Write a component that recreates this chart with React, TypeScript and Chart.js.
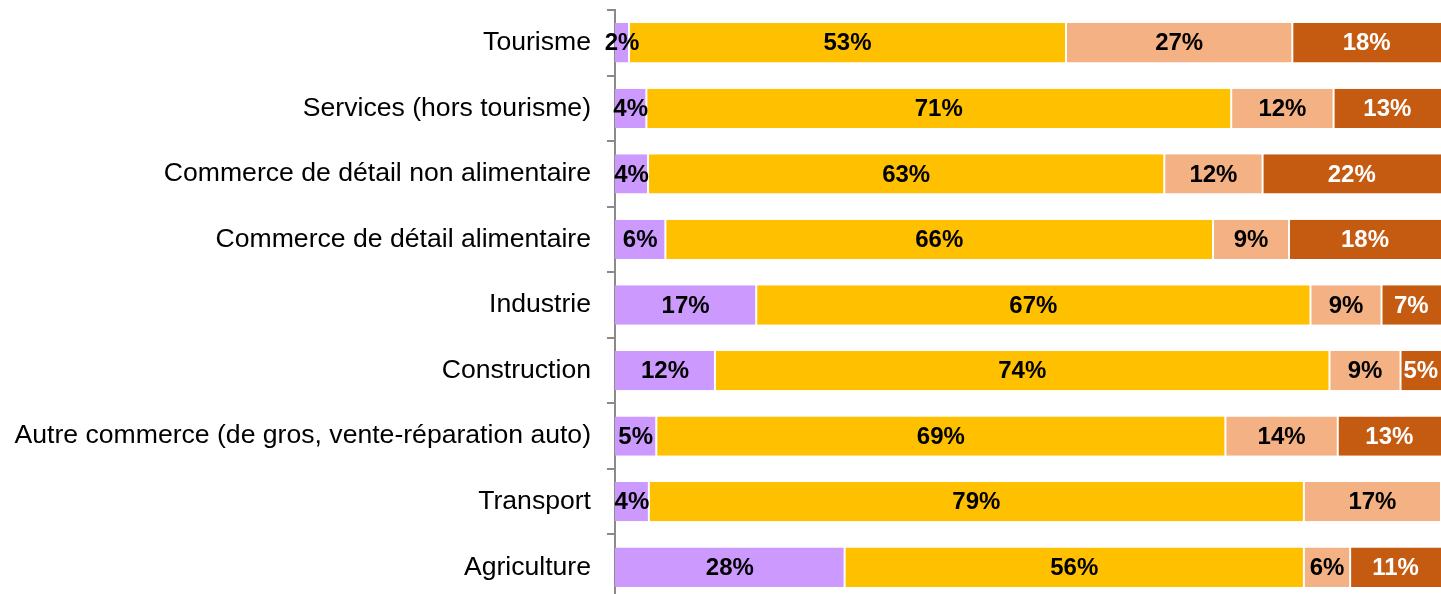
import React, { useEffect, useRef } from "react";
import { Chart, registerables } from "chart.js";

Chart.register(...registerables);

const categories = [
  "Tourisme",
  "Services (hors tourisme)",
  "Commerce de détail non alimentaire",
  "Commerce de détail alimentaire",
  "Industrie",
  "Construction",
  "Autre commerce (de gros, vente-réparation auto)",
  "Transport",
  "Agriculture",
];

const seriesA = [1.7, 3.8, 4.0, 6.1, 17.1, 12.1, 5.0, 4.1, 27.8];
const seriesB = [52.9, 70.8, 62.5, 66.3, 67.1, 74.4, 68.9, 79.3, 55.6];
const seriesC = [27.4, 12.4, 11.9, 9.2, 8.6, 8.6, 13.6, 16.6, 5.6];
const seriesD = [18.0, 13.0, 21.6, 18.4, 7.2, 4.9, 12.5, 0, 11.0];

const colors = ["#CC99FF", "#FFC000", "#F4B183", "#C55A11"];
const labelColors = ["#000000", "#000000", "#000000", "#FFFFFF"];

const dataLabelPlugin = {
  id: "dataLabels",
  afterDatasetsDraw(chart: any) {
    const ctx = chart.ctx;
    ctx.save();
    ctx.font = "bold 24px 'Liberation Sans', Arial, sans-serif";
    ctx.textAlign = "center";
    ctx.textBaseline = "middle";
    chart.data.datasets.forEach((ds: any, di: number) => {
      const meta = chart.getDatasetMeta(di);
      meta.data.forEach((bar: any, i: number) => {
        const v = ds.data[i];
        if (!v) return;
        const cx = (bar.x + bar.base) / 2;
        ctx.fillStyle = labelColors[di];
        ctx.fillText(Math.round(v) + "%", cx, bar.y + 1);
      });
    });
    ctx.restore();
  },
};

export default function App() {
  const ref = useRef<HTMLCanvasElement>(null);
  useEffect(() => {
    if (!ref.current) return;
    const mk = (data: number[], i: number) => ({
      data,
      backgroundColor: colors[i],
      borderColor: "#FFFFFF",
      borderWidth: { top: 0, bottom: 0, left: i === 0 ? 0 : 1, right: i === 3 ? 0 : 1 },
      borderSkipped: false,
      barPercentage: 0.6,
      categoryPercentage: 1,
    });
    const chart = new Chart(ref.current, {
      type: "bar",
      data: {
        labels: categories,
        datasets: [mk(seriesA, 0), mk(seriesB, 1), mk(seriesC, 2), mk(seriesD, 3)],
      },
      options: {
        indexAxis: "y",
        animation: false,
        responsive: false,
        maintainAspectRatio: false,
        layout: { padding: { top: 10, bottom: 0, left: 0, right: 0 } },
        plugins: { legend: { display: false }, tooltip: { enabled: false } },
        scales: {
          x: { stacked: true, min: 0, max: 100, display: false },
          y: {
            stacked: true,
            afterFit(scale: any) {
              scale.width = 615;
              scale.paddingTop = 0;
              scale.paddingBottom = 0;
            },
            grid: {
              offset: true,
              drawOnChartArea: false,
              drawTicks: true,
              tickLength: 8,
              color: "#8A8A8A",
              lineWidth: 2,
            },
            border: { display: true, color: "#8A8A8A", width: 2 },
            ticks: {
              color: "#000000",
              padding: 16,
              font: { family: "'Liberation Sans', Arial, sans-serif", size: 26.6 },
            },
          },
        },
      },
      plugins: [dataLabelPlugin],
    });
    return () => chart.destroy();
  }, []);
  return (
    <div style={{ position: "fixed", left: 0, top: 0, width: 1441, height: 594, overflow: "hidden", background: "#fff" }}>
      <canvas ref={ref} width={1441} height={600} style={{ display: "block" }} />
    </div>
  );
}
